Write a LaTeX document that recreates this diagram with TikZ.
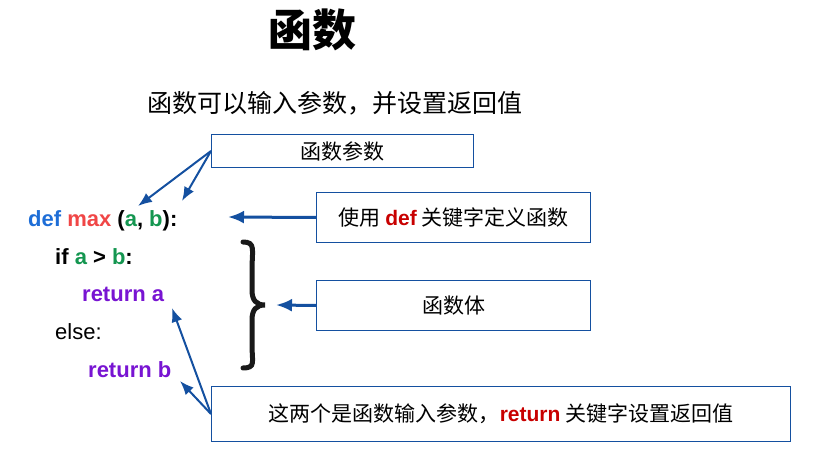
\documentclass[tikz,border=0pt]{standalone}
\usepackage{fontspec}
\setmainfont{Liberation Sans}
\newfontfamily\cjk{Noto Sans CJK SC}
\usetikzlibrary{arrows.meta}
\definecolor{kwblue}{RGB}{30,110,215}
\definecolor{kwred}{RGB}{240,70,70}
\definecolor{kwgreen}{RGB}{20,150,80}
\definecolor{kwpurple}{RGB}{120,20,210}
\definecolor{ln}{RGB}{20,80,160}
\definecolor{darkred}{RGB}{200,0,0}
\begin{document}
\begin{tikzpicture}[x=1pt,y=-1pt,
  box/.style={draw=ln,line width=1pt,anchor=north west,inner sep=0pt,font=\cjk\fontsize{21}{24}\selectfont},
  arr/.style={draw=ln,line width=3pt,-{Latex[length=16pt,width=13pt]}},
  arrs/.style={draw=ln,line width=2pt,-{Latex[length=14pt,width=11pt]}},
  code/.style={anchor=base west,inner sep=0pt,font=\bfseries\fontsize{22}{24}\selectfont}]
\useasboundingbox (0,0) rectangle (830,468);
\node[font=\cjk\bfseries\fontsize{44}{48}\selectfont] (title) at (312,30) {函数};
\node[font=\cjk\fontsize{25}{28}\selectfont] (sub) at (335,103) {函数可以输入参数，并设置返回值};
\node[box,minimum width=262pt,minimum height=33pt] (p) at (211,134) {函数参数};
\node[box,minimum width=274pt,minimum height=50pt] (d) at (316,192) {使用 {\bfseries\color{darkred}\rmfamily def} 关键字定义函数};
\node[box,minimum width=274pt,minimum height=50pt] (b) at (316,280) {函数体};
\node[box,minimum width=579pt,minimum height=55pt] (r) at (211,386) {这两个是函数输入参数，{\bfseries\color{darkred}\rmfamily return} 关键字设置返回值};
\node[code] (l1) at (28,226) {\color{kwblue}def \color{kwred}max \color{black}(\color{kwgreen}a\color{black}, \color{kwgreen}b\color{black}):};
\node[code] (l2) at (55,264) {if \color{kwgreen}a \color{black}> \color{kwgreen}b\color{black}:};
\node[code,text=kwpurple] (l3) at (82,301) {return a};
\node[code,font=\fontsize{22}{24}\selectfont] (l4) at (55,339) {else:};
\node[code,text=kwpurple] (l5) at (88,377) {return b};
\coordinate (ta) at (138,206);
\coordinate (tb) at (182,201);
\coordinate (td) at (228,217);
\coordinate (tbr) at (276,305);
\coordinate (t3) at (172,308);
\coordinate (t5) at (180,381);
\draw[arrs] (p.west) -- (ta);
\draw[arrs] (p.west) -- (tb);
\draw[arr] (d.west) -- (td);
\draw[arr] (b.west) -- (tbr);
\draw[arrs] (r.west) -- (t3);
\draw[arrs] (r.west) -- (t5);
\draw[line width=5pt,line cap=round,black!90] (243,242) .. controls (256,242) and (252,250) .. (252,270) -- (252,290) .. controls (252,300) and (256,305) .. (265,305) .. controls (256,305) and (252,310) .. (252,320) -- (252,345) .. controls (252,362) and (256,368) .. (243,368);
\end{tikzpicture}
\end{document}
